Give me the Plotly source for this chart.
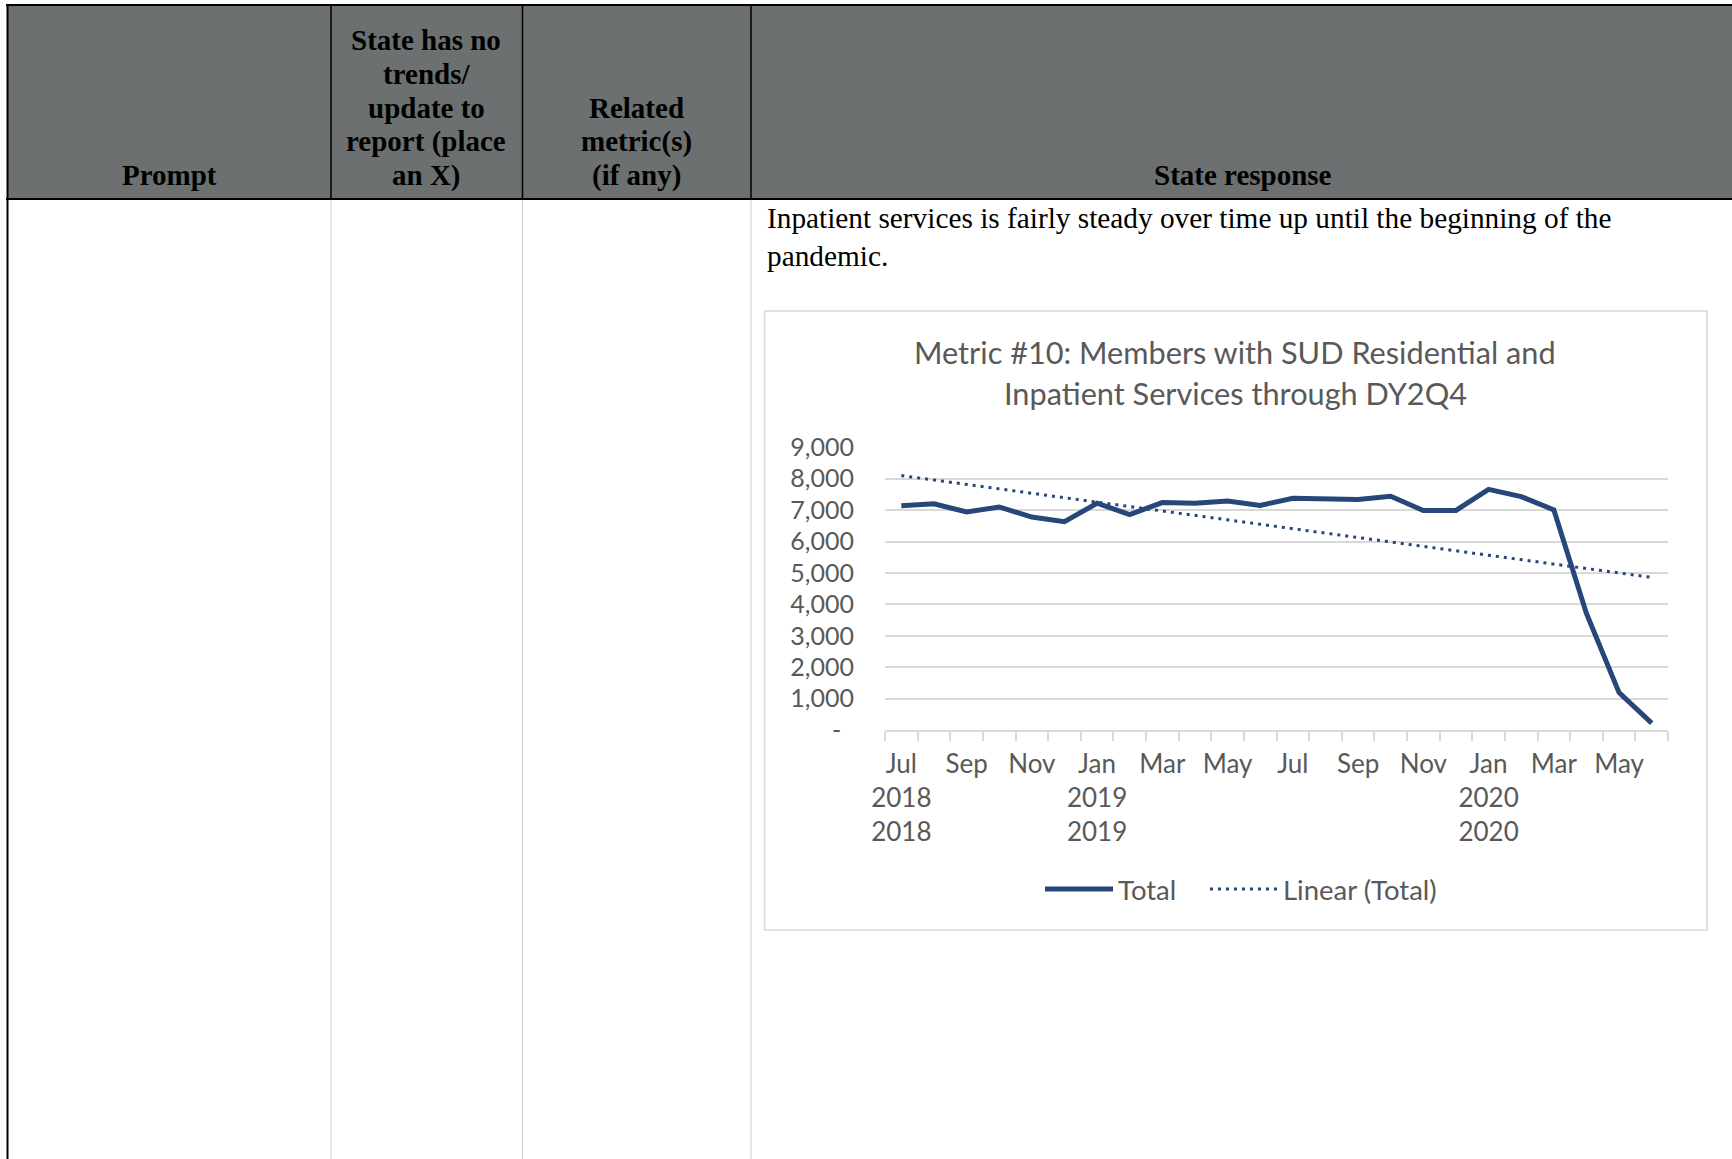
import numpy as np
import plotly.graph_objects as go

# ---------------- data ----------------
categories = ["Jul 2018", "Aug 2018", "Sep 2018", "Oct 2018", "Nov 2018", "Dec 2018",
              "Jan 2019", "Feb 2019", "Mar 2019", "Apr 2019", "May 2019", "Jun 2019",
              "Jul 2019", "Aug 2019", "Sep 2019", "Oct 2019", "Nov 2019", "Dec 2019",
              "Jan 2020", "Feb 2020", "Mar 2020", "Apr 2020", "May 2020", "Jun 2020"]
total = [7140, 7200, 6940, 7100, 6780, 6630, 7220, 6860, 7240, 7220, 7290, 7150,
         7380, 7380, 7340, 7440, 6990, 6990, 7660, 7430, 7010, 3710, 1190, 220]
x_tick_text = ["Jul<br>2018<br>2018", "", "Sep", "", "Nov", "",
               "Jan<br>2019<br>2019", "", "Mar", "", "May", "",
               "Jul", "", "Sep", "", "Nov", "",
               "Jan<br>2020<br>2020", "", "Mar", "", "May", ""]
y_tick_vals = [0, 1000, 2000, 3000, 4000, 5000, 6000, 7000, 8000, 9000]
y_tick_text = ["-\u00a0\u00a0", "1,000", "2,000", "3,000", "4,000", "5,000",
               "6,000", "7,000", "8,000", "9,000"]

chart_title = ["Metric #10: Members with SUD Residential and",
               "Inpatient Services through DY2Q4"]
header_prompt = ["Prompt"]
header_state_none = ["State has no", "trends/", "update to", "report (place", "an X)"]
header_related = ["Related", "metric(s)", "(if any)"]
header_response = ["State response"]
body_text = ["Inpatient services is fairly steady over time up until the beginning of the",
             "pandemic."]

# linear trend of the total series (Excel "Linear (Total)")
idx = np.arange(len(total))
slope, intercept = np.polyfit(idx, total, 1)
trend = list(slope * idx + intercept)

# ---------------- layout helpers ----------------
W, H = 1732, 1159
def px(x):
    return x / W
def py(y):
    return 1 - y / H

LINE = "#27467a"
GRID = "#d9d9d9"
TXT = "#595959"
HEAD = "#6c7070"
SANS = "Lato"
SERIF = "Liberation Serif"

fig = go.Figure()
fig.add_trace(go.Scatter(x=categories, y=total, mode="lines", name="Total",
                         line=dict(color=LINE, width=5), legend="legend"))
fig.add_trace(go.Scatter(x=categories, y=trend, mode="lines", name="Linear (Total)",
                         line=dict(color=LINE, width=3, dash="3px,5px"), legend="legend2"))

shapes = []
# header background
shapes.append(dict(type="rect", xref="paper", yref="paper", x0=px(7), x1=px(1732), y0=py(199), y1=py(5),
                   fillcolor=HEAD, line=dict(width=0), layer="below"))
# body column lines (light)
for cx in [331, 522.5, 751]:
    shapes.append(dict(type="line", xref="paper", yref="paper", x0=px(cx), x1=px(cx), y0=py(199), y1=py(1159),
                       line=dict(color="#d4d4d4", width=1.2), layer="below"))
# header column lines (black)
for cx in [331, 522.5, 751]:
    shapes.append(dict(type="line", xref="paper", yref="paper", x0=px(cx), x1=px(cx), y0=py(5), y1=py(199),
                       line=dict(color="black", width=1.5), layer="below"))
# outer borders
shapes.append(dict(type="line", xref="paper", yref="paper", x0=px(7.5), x1=px(7.5), y0=py(4), y1=py(1159),
                   line=dict(color="black", width=2), layer="below"))
shapes.append(dict(type="line", xref="paper", yref="paper", x0=px(6), x1=px(1732), y0=py(5), y1=py(5),
                   line=dict(color="black", width=2), layer="below"))
shapes.append(dict(type="line", xref="paper", yref="paper", x0=px(6), x1=px(1732), y0=py(199), y1=py(199),
                   line=dict(color="black", width=2), layer="below"))
# chart box
shapes.append(dict(type="rect", xref="paper", yref="paper", x0=px(764.5), x1=px(1707), y0=py(930), y1=py(311),
                   fillcolor="white", line=dict(color=GRID, width=1.5), layer="below"))

annotations = []
def add_lines(lines, cx, ys, size, family, color, bold=False, anchor="center"):
    for t, yy in zip(lines, ys):
        annotations.append(dict(text=t, xref="paper", yref="paper", x=px(cx), y=py(yy),
                                xanchor=anchor, yanchor="middle", showarrow=False,
                                font=dict(family=family, size=size, color=color,
                                          weight="bold" if bold else "normal")))

hy = [40, 74, 107.5, 141.5, 175]
add_lines(header_prompt, 169, hy[-1:], 29, SERIF, "black", True)
add_lines(header_state_none, 426, hy, 29, SERIF, "black", True)
add_lines(header_related, 636, hy[-3:], 29, SERIF, "black", True)
add_lines(header_response, 1243, hy[-1:], 29, SERIF, "black", True)
add_lines(body_text, 765, [218, 255.5], 29.3, SERIF, "black", False, anchor="left")
add_lines(chart_title, 1235, [352, 393], 30.7, SANS, TXT)

legend_common = dict(orientation="h", xanchor="left", yanchor="middle", y=py(889),
                     itemwidth=68, font=dict(family=SANS, size=27.5, color=TXT),
                     bgcolor="rgba(0,0,0,0)")

fig.update_layout(
    width=W, height=H, autosize=False,
    margin=dict(l=0, r=0, t=0, b=0, pad=0, autoexpand=False),
    paper_bgcolor="white", plot_bgcolor="rgba(0,0,0,0)",
    shapes=shapes, annotations=annotations,
    showlegend=True,
    legend=dict(x=px(1040), **legend_common),
    legend2=dict(x=px(1205), **legend_common),
    xaxis=dict(domain=[px(885), px(1668)], type="category", categoryorder="array",
               categoryarray=categories, range=[-0.5, len(categories) - 0.5],
               tickmode="array", tickvals=categories,
               ticktext=x_tick_text, tickson="boundaries", ticks="outside", ticklen=9,
               tickcolor=GRID, tickwidth=1.5, showgrid=False, showline=True,
               linecolor=GRID, linewidth=1.5, tickangle=0, ticklabelstandoff=10,
               automargin=False,
               tickfont=dict(family=SANS, size=26, color=TXT), zeroline=False),
    yaxis=dict(domain=[py(730), py(447.3)], range=[0, 9000], tickmode="array",
               tickvals=y_tick_vals, ticktext=y_tick_text, showgrid=True,
               gridcolor=GRID, gridwidth=1.5, zeroline=False, showline=False,
               ticks="", ticklabelstandoff=30, automargin=False,
               tickfont=dict(family=SANS, size=25, color=TXT)),
)

fig.write_html("out.html", config={"displayModeBar": False},
               post_script="document.body.style.margin='0';document.body.style.overflow='hidden';")
